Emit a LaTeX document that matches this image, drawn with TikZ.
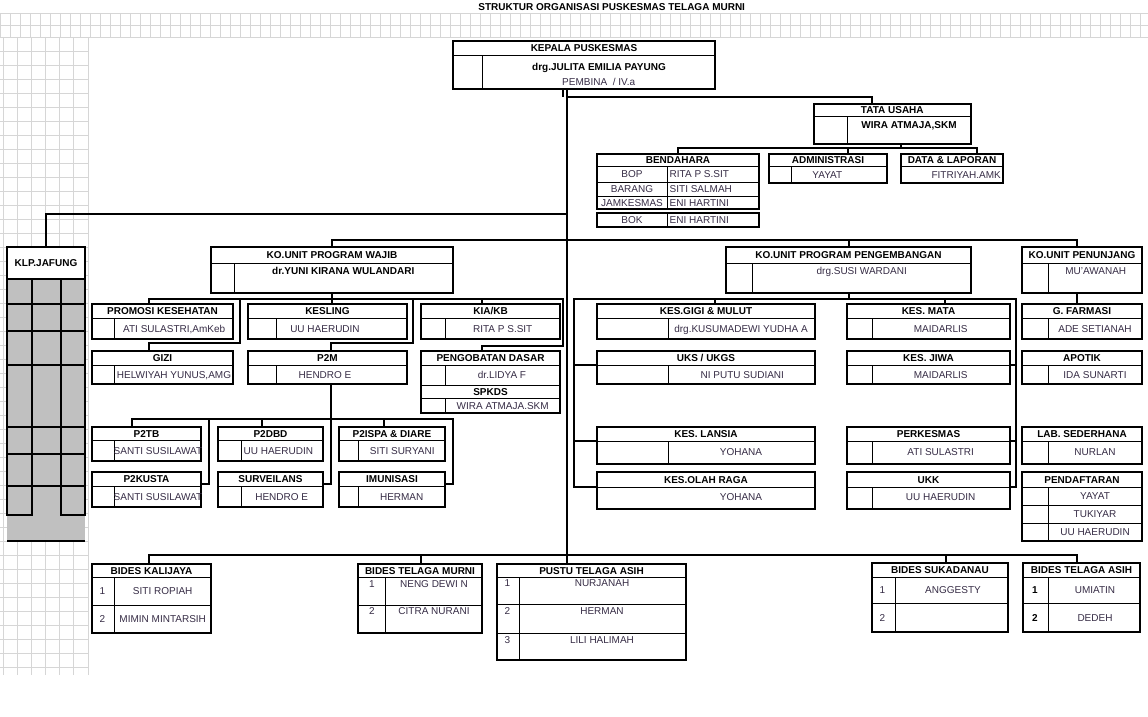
\documentclass[tikz,border=0pt]{standalone}
\usepackage{fontspec}
\setmainfont{Liberation Sans}
\usetikzlibrary{fit,calc}
\definecolor{nmcol}{RGB}{55,45,70}
\definecolor{gridc}{RGB}{214,214,214}
\definecolor{jfgray}{RGB}{192,192,192}
\tikzset{
 frame/.style={draw=black, line width=2pt, fill=white, inner sep=0pt, outer sep=0pt},
 innerln/.style={draw=black, line width=1pt, xshift=0.5pt, yshift=-0.5pt},
 conn/.style={draw=black, line width=2pt},
 jfln/.style={draw=black, line width=2pt},
 txt/.style={inner sep=0pt, text height=7.2pt, text depth=0pt, font=\fontsize{10}{12}\selectfont},
 hd/.style={txt, font=\fontsize{10}{12}\selectfont\bfseries, text=black},
 nm/.style={txt, text=nmcol},
 nb/.style={txt, font=\fontsize{10}{12}\selectfont\bfseries, text=black},
 gridln/.style={draw=gridc, line width=0.6pt}
}
% name, x1, y1, x2, ydivider, y2, x of inner vertical (0 = none)
\newcommand\frm[7]{%
  \node[frame, fit={(#2,#3)(#4,#6)}] (#1) {};
  \draw[innerln] (#2,#5) -- (#4,#5);
  \ifdim #7pt>0pt \draw[innerln] (#7,#5) -- (#7,#6);\fi
}
\begin{document}
\begin{tikzpicture}[x=1pt,y=-1pt]
\useasboundingbox (0,0) rectangle (1148,717);
\fill[white] (0,0) rectangle (1148,717);
% spreadsheet grid
\foreach \y in {13,25,37} \draw[gridln] (0,\y) -- (1148,\y);
\foreach \x in {0,10,...,1140} \draw[gridln] (\x,13) -- (\x,37);
\foreach \x in {3,17,31,45,59,73,88} \draw[gridln] (\x,37) -- (\x,675);
\foreach \y in {51,65,...,675} \draw[gridln] (0,\y) -- (88,\y);

\node[hd] (title) at (611.7,6.5) {STRUKTUR ORGANISASI PUSKESMAS TELAGA MURNI};

% ---------- junction coordinates ----------
\coordinate (trk) at (567,0);
\coordinate (trk2) at (563,0);
\coordinate (jtu) at (567,97);
\coordinate (tux) at (872,0);
\coordinate (tub) at (901,148);
\coordinate (tuL) at (678,148);
\coordinate (tuR) at (977,148);
\coordinate (admx) at (848,0);
\coordinate (jf) at (567,214);
\coordinate (kb) at (0,240);
\coordinate (pjx) at (1077,0);
\coordinate (wb) at (0,299);
\coordinate (wb2) at (0,343);
\coordinate (wb3) at (0,346);
\coordinate (xA) at (149,0);
\coordinate (xB) at (240,0);
\coordinate (xC) at (413,0);
\coordinate (xD) at (563,0);
\coordinate (xK) at (482,0);
\coordinate (xP) at (331,0);
\coordinate (pb) at (0,419);
\coordinate (pb2) at (0,484);
\coordinate (xE) at (132,0);
\coordinate (xF) at (262,0);
\coordinate (xG) at (384,0);
\coordinate (xH) at (209,0);
\coordinate (xI) at (453,0);
\coordinate (gb) at (0,299);
\coordinate (xL) at (574,0);
\coordinate (xR) at (1016,0);
\coordinate (xM) at (715,0);
\coordinate (xN) at (945,0);
\coordinate (y365) at (0,365);
\coordinate (ylan) at (0,441);
\coordinate (ylow) at (0,487);
\coordinate (bb) at (0,555);
\coordinate (xTM) at (421,0);
\coordinate (xSK) at (946,0);

% ---------- boxes ----------
\frm{kepala}{453}{41}{715}{55}{89}{482}
\frm{tata}{814}{104}{971}{116}{144}{847}
\frm{bend}{597}{154}{759}{166}{209}{0}
\draw[innerln] (597,182) -- (759,182);
\draw[innerln] (597,196) -- (759,196);
\draw[innerln] (667,166) -- (667,209);
\node[frame, fit={(597,213)(759,227)}] (bok) {};
\draw[innerln] (667,213) -- (667,227);
\frm{adm}{769}{154}{887}{166}{183}{791}
\frm{data}{901}{154}{1003}{166}{183}{0}

% KLP JAFUNG
\fill[jfgray] (7,279) rectangle (85,541);
\node[frame, fit={(7,247)(85,279)}] (jafung) {};
\foreach \x in {7,32,61,85} \draw[jfln] (\x,279) -- (\x,515);
\foreach \y in {304,331,365,427,454,486} \draw[jfln] (7,\y) -- (85,\y);
\draw[jfln] (6,515) -- (33,515);
\draw[jfln] (60,515) -- (86,515);
\draw[jfln] (7,541) -- (85,541);

\frm{wajib}{211}{247}{453}{263}{293}{234}
\frm{peng}{726}{247}{971}{263}{293}{752}
\frm{penunjang}{1022}{247}{1142}{263}{293}{1048}

\frm{promosi}{92}{304}{233}{318}{339}{114}
\frm{kesling}{248}{304}{407}{318}{339}{276}
\frm{kia}{421}{304}{560}{318}{339}{445}
\frm{gizi}{92}{351}{233}{365}{384}{114}
\frm{p2m}{248}{351}{407}{365}{384}{276}
\frm{pengob}{421}{351}{560}{365}{413}{0}
\draw[innerln] (421,385) -- (560,385);
\draw[innerln] (421,398) -- (560,398);
\draw[innerln] (445,365) -- (445,385);
\draw[innerln] (445,398) -- (445,413);

\frm{p2tb}{92}{427}{201}{440}{461}{114}
\frm{p2dbd}{218}{427}{323}{440}{461}{241}
\frm{p2ispa}{339}{427}{445}{440}{461}{358}
\frm{p2kusta}{92}{472}{201}{486}{507}{114}
\frm{surv}{218}{472}{323}{486}{507}{241}
\frm{imun}{339}{472}{445}{486}{507}{358}

\frm{gigi}{597}{304}{815}{318}{339}{668}
\frm{uks}{597}{351}{815}{365}{384}{668}
\frm{mata}{847}{304}{1010}{318}{339}{872}
\frm{jiwa}{847}{351}{1010}{365}{384}{872}
\frm{farmasi}{1022}{304}{1142}{318}{339}{1048}
\frm{apotik}{1022}{351}{1142}{365}{384}{1048}
\frm{lansia}{597}{427}{815}{441}{464}{668}
\frm{olah}{597}{472}{815}{487}{509}{0}
\frm{perkes}{847}{427}{1010}{441}{464}{872}
\frm{ukk}{847}{472}{1010}{487}{509}{872}
\frm{lab}{1022}{427}{1142}{441}{464}{1048}
\frm{daftar}{1022}{472}{1142}{487}{541}{1048}
\draw[innerln] (1022,505) -- (1142,505);
\draw[innerln] (1022,523) -- (1142,523);

\frm{kalij}{92}{564}{211}{577}{633}{114}
\draw[innerln] (92,605) -- (211,605);
\frm{tmurni}{358}{564}{482}{577}{633}{385}
\draw[innerln] (358,605) -- (482,605);
\frm{pustu}{497}{564}{686}{577}{660}{519}
\draw[innerln] (497,604) -- (686,604);
\draw[innerln] (497,633) -- (686,633);
\frm{sukad}{872}{563}{1008}{577}{632}{895}
\draw[innerln] (872,603) -- (1008,603);
\frm{tasih}{1023}{563}{1140}{577}{632}{1048}
\draw[innerln] (1023,603) -- (1140,603);

% ---------- connector lines ----------
\draw[conn] (kepala.south -| trk) -- (pustu.north -| trk);
\draw[conn, line width=1.5pt] (kepala.south -| trk2) -- (trk2 |- jtu);
\draw[conn] (jtu) -| (tata.north -| tux);
\draw[conn] (tata.south -| tub) -- (tub);
\draw[conn] (bend.north) -- (bend.north |- tuL) -- (tuR) -- (data.north -| tuR);
\draw[conn] (adm.north -| admx) -- (admx |- tuL);
\draw[conn] (jf) -| (jafung.north);
\draw[conn] (wajib.north) -- (wajib.north |- kb) -- (kb -| pjx) -- (penunjang.north -| pjx);
\draw[conn] (peng.north) -- (peng.north |- kb);
% wajib subtree
\draw[conn] (wajib.south) -- (wajib.south |- kesling.north);
\draw[conn] (xA |- promosi.north) -- (xA |- wb) -- (xD |- wb) -- (xD |- wb3) -- (xK |- wb3) -- (xK |- pengob.north);
\draw[conn] (xK |- wb) -- (xK |- kia.north);
\draw[conn] (xB |- wb) -- (xB |- wb2) -- (xA |- wb2) -- (xA |- gizi.north);
\draw[conn] (xC |- wb) -- (xC |- wb2) -- (xP |- wb2) -- (xP |- p2m.north);
% P2M subtree
\draw[conn] (xP |- p2m.south) -- (xP |- pb);
\draw[conn] (xE |- p2tb.north) -- (xE |- pb) -- (xI |- pb) -- (xI |- pb2) -- (imun.east |- pb2);
\draw[conn] (xF |- pb) -- (xF |- p2dbd.north);
\draw[conn] (xG |- pb) -- (xG |- p2ispa.north);
\draw[conn] (xH |- pb) -- (xH |- pb2) -- (p2kusta.east |- pb2);
\draw[conn] (xP |- pb) -- (xP |- pb2) -- (surv.east |- pb2);
% pengembangan subtree
\draw[conn] (peng.south) -- (peng.south |- gb);
\draw[conn] (olah.west |- ylow) -- (xL |- ylow) -- (xL |- gb) -- (xR |- gb) -- (xR |- ylow) -- (ukk.east |- ylow);
\draw[conn] (xM |- gb) -- (xM |- gigi.north);
\draw[conn] (xN |- gb) -- (xN |- mata.north);
\draw[conn] (xL |- y365) -- (uks.west |- y365);
\draw[conn] (xL |- ylan) -- (lansia.west |- ylan);
\draw[conn] (xR |- y365) -- (jiwa.east |- y365);
\draw[conn] (xR |- ylan) -- (perkes.east |- ylan);
% penunjang
\draw[conn] (pjx |- penunjang.south) -- (pjx |- farmasi.north);
% bides
\draw[conn] (xA |- kalij.north) -- (xA |- bb) -- (pjx |- bb) -- (pjx |- tasih.north);
\draw[conn] (xTM |- bb) -- (xTM |- tmurni.north);
\draw[conn] (xSK |- bb) -- (xSK |- sukad.north);

% ---------- texts ----------
\node[hd] (kepala-h) at (584,48) {KEPALA PUSKESMAS};
\node[nb] (kepala-n) at (599,67) {drg.JULITA EMILIA PAYUNG};
\node[nm] (kepala-g) at (598.7,82) {PEMBINA\ \ / IV.a};
\node[hd] (tata-h) at (892.3,110) {TATA USAHA};
\node[nb] (tata-n) at (909,124.5) {WIRA ATMAJA,SKM};
\node[hd] (bend-h) at (678,160.3) {BENDAHARA};
\node[nm] (bend-1) at (632,174) {BOP};
\node[nm,anchor=west] (bend-1n) at (669.5,174) {RITA P S.SIT};
\node[nm] (bend-2) at (632,189) {BARANG};
\node[nm,anchor=west] (bend-2n) at (669.5,189) {SITI SALMAH};
\node[nm] (bend-3) at (632,202.5) {JAMKESMAS};
\node[nm,anchor=west] (bend-3n) at (669.5,202.5) {ENI HARTINI};
\node[nm] (bok-1) at (632,220) {BOK};
\node[nm,anchor=west] (bok-1n) at (669.5,220) {ENI HARTINI};
\node[hd] (adm-h) at (828,160.3) {ADMINISTRASI};
\node[nm] (adm-n) at (827.3,175) {YAYAT};
\node[hd] (data-h) at (952,160.3) {DATA \& LAPORAN};
\node[nm,anchor=east] (data-n) at (1001,175) {FITRIYAH.AMK};
\node[hd] (jafung-h) at (46,263) {KLP.JAFUNG};

\node[hd] (wajib-h) at (332,255) {KO.UNIT PROGRAM WAJIB};
\node[nb] (wajib-n) at (343.3,270.5) {dr.YUNI KIRANA WULANDARI};
\node[hd] (peng-h) at (848.5,255) {KO.UNIT PROGRAM PENGEMBANGAN};
\node[nm] (peng-n) at (861.7,270.5) {drg.SUSI WARDANI};
\node[hd] (penunjang-h) at (1082,255) {KO.UNIT PENUNJANG};
\node[nm] (penunjang-n) at (1095.7,270.5) {MU'AWANAH};

\node[hd] (promosi-h) at (162.5,311) {PROMOSI KESEHATAN};
\node[nm] (promosi-n) at (174.2,328.7) {ATI SULASTRI,AmKeb};
\node[hd] (kesling-h) at (327.5,311) {KESLING};
\node[nm] (kesling-n) at (325,328.7) {UU HAERUDIN};
\node[hd] (kia-h) at (490.5,311) {KIA/KB};
\node[nm] (kia-n) at (502.7,328.7) {RITA P S.SIT};
\node[hd] (gizi-h) at (162.5,358) {GIZI};
\node[nm] (gizi-n) at (174,374.7) {HELWIYAH YUNUS,AMG};
\node[hd] (p2m-h) at (327.5,358) {P2M};
\node[nm] (p2m-n) at (325,374.7) {HENDRO E};
\node[hd] (pengob-h) at (490.5,358) {PENGOBATAN DASAR};
\node[nm] (pengob-n) at (502,375) {dr.LIDYA F};
\node[hd] (spkds-h) at (490.5,391.5) {SPKDS};
\node[nm] (spkds-n) at (502.7,405.5) {WIRA ATMAJA.SKM};

\node[hd] (p2tb-h) at (146.5,433.5) {P2TB};
\node[nm] (p2tb-n) at (158,450.5) {SANTI SUSILAWAT};
\node[hd] (p2dbd-h) at (270.5,433.5) {P2DBD};
\node[nm] (p2dbd-n) at (278.3,450.5) {UU HAERUDIN};
\node[hd] (p2ispa-h) at (392,433.5) {P2ISPA \& DIARE};
\node[nm] (p2ispa-n) at (402.3,450.5) {SITI SURYANI};
\node[hd] (p2kusta-h) at (146.5,479) {P2KUSTA};
\node[nm] (p2kusta-n) at (158,496.5) {SANTI SUSILAWAT};
\node[hd] (surv-h) at (270.5,479) {SURVEILANS};
\node[nm] (surv-n) at (281.7,496.5) {HENDRO E};
\node[hd] (imun-h) at (392,479) {IMUNISASI};
\node[nm] (imun-n) at (401.7,496.5) {HERMAN};

\node[hd] (gigi-h) at (706,311) {KES.GIGI \& MULUT};
\node[nm] (gigi-n) at (741,328.7) {drg.KUSUMADEWI YUDHA A};
\node[hd] (uks-h) at (706,358) {UKS / UKGS};
\node[nm] (uks-n) at (742.3,374.7) {NI PUTU SUDIANI};
\node[hd] (mata-h) at (928.5,311) {KES. MATA};
\node[nm] (mata-n) at (940.7,328.7) {MAIDARLIS};
\node[hd] (jiwa-h) at (928.5,358) {KES. JIWA};
\node[nm] (jiwa-n) at (940.7,374.7) {MAIDARLIS};
\node[hd] (farmasi-h) at (1082,311) {G. FARMASI};
\node[nm] (farmasi-n) at (1095,328.7) {ADE SETIANAH};
\node[hd] (apotik-h) at (1082,358) {APOTIK};
\node[nm] (apotik-n) at (1095,374.7) {IDA SUNARTI};

\node[hd] (lansia-h) at (706,434) {KES. LANSIA};
\node[nm] (lansia-n) at (741,451.5) {YOHANA};
\node[hd] (olah-h) at (706,479.5) {KES.OLAH RAGA};
\node[nm] (olah-n) at (741,497) {YOHANA};
\node[hd] (perkes-h) at (928.5,434) {PERKESMAS};
\node[nm] (perkes-n) at (940.7,451.5) {ATI SULASTRI};
\node[hd] (ukk-h) at (928.5,479.5) {UKK};
\node[nm] (ukk-n) at (940.7,497) {UU HAERUDIN};
\node[hd] (lab-h) at (1082,434) {LAB. SEDERHANA};
\node[nm] (lab-n) at (1095,451.5) {NURLAN};
\node[hd] (daftar-h) at (1082,479.5) {PENDAFTARAN};
\node[nm] (daftar-1) at (1095,496) {YAYAT};
\node[nm] (daftar-2) at (1095,514) {TUKIYAR};
\node[nm] (daftar-3) at (1095,532) {UU HAERUDIN};

\node[hd] (kalij-h) at (151.5,570.5) {BIDES KALIJAYA};
\node[nm] (kalij-1) at (102.5,590.5) {1};
\node[nm] (kalij-1n) at (162.7,590.5) {SITI ROPIAH};
\node[nm] (kalij-2) at (102.5,618.7) {2};
\node[nm] (kalij-2n) at (162.7,618.7) {MIMIN MINTARSIH};
\node[hd] (tmurni-h) at (420,570.5) {BIDES TELAGA MURNI};
\node[nm] (tmurni-1) at (372,583.5) {1};
\node[nm] (tmurni-1n) at (434,583.5) {NENG DEWI N};
\node[nm] (tmurni-2) at (372,610.5) {2};
\node[nm] (tmurni-2n) at (434,610.5) {CITRA NURANI};
\node[hd] (pustu-h) at (591.5,570.5) {PUSTU TELAGA ASIH};
\node[nm] (pustu-1) at (507.5,583.3) {1};
\node[nm] (pustu-1n) at (602,583.3) {NURJANAH};
\node[nm] (pustu-2) at (507.5,610.7) {2};
\node[nm] (pustu-2n) at (602,610.7) {HERMAN};
\node[nm] (pustu-3) at (507.5,640.3) {3};
\node[nm] (pustu-3n) at (602,640.3) {LILI HALIMAH};
\node[hd] (sukad-h) at (940,570) {BIDES SUKADANAU};
\node[nm] (sukad-1) at (882.5,590) {1};
\node[nm] (sukad-1n) at (953,590) {ANGGESTY};
\node[nm] (sukad-2) at (882.5,618) {2};
\node[hd] (tasih-h) at (1081.5,570) {BIDES TELAGA ASIH};
\node[nb] (tasih-1) at (1035,590) {1};
\node[nm] (tasih-1n) at (1095,590) {UMIATIN};
\node[nb] (tasih-2) at (1035,618) {2};
\node[nm] (tasih-2n) at (1095,618) {DEDEH};
\end{tikzpicture}
\end{document}
